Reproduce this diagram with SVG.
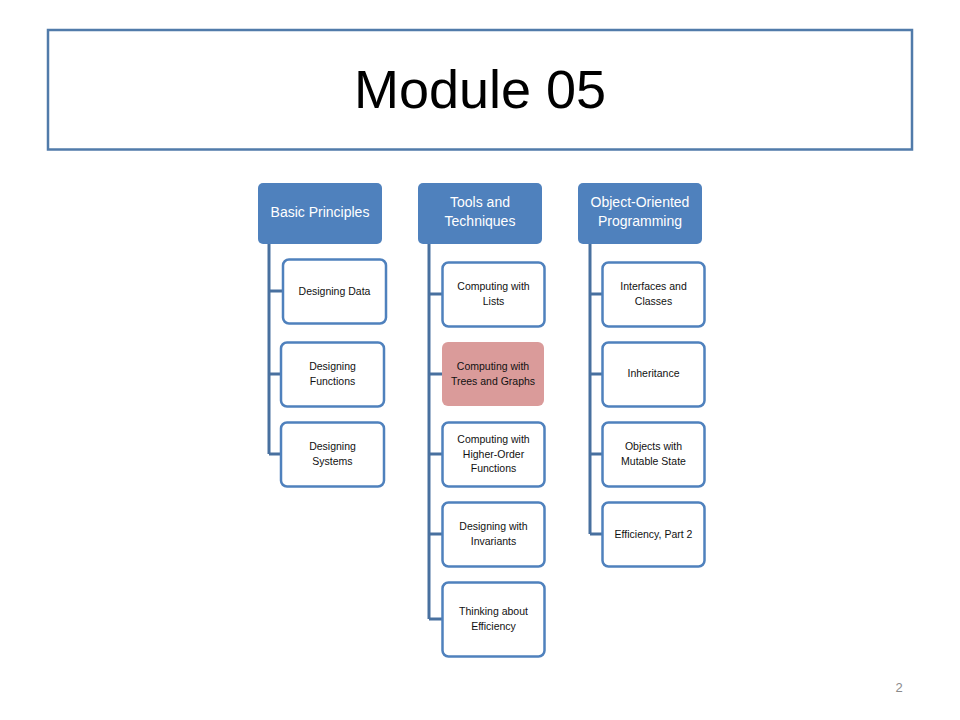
<svg xmlns="http://www.w3.org/2000/svg" width="960" height="720" viewBox="0 0 960 720">
<style>
text{font-family:"Liberation Sans",Arial,sans-serif;text-anchor:middle}
.hdr rect{fill:#4F81BD}
.hdr text{fill:#fff;font-size:14px}
.ch rect{fill:#fff;stroke:#4F81BD;stroke-width:2.5}
.ch text{fill:#111;font-size:10.5px}
.hl rect{fill:#DA9B9A;stroke:none}
.con{stroke:#48709F;stroke-width:3;fill:none}
</style>
<rect width="960" height="720" fill="#fff"/>
<g id="title">
<rect x="48" y="30" width="864" height="119.5" fill="#fff" stroke="#517BAA" stroke-width="2.5"/>
<text x="480" y="108" font-size="54" fill="#000">Module 05</text>
</g>
<g id="connectors" class="con">
<path d="M269 244V454M269 291H283M269 374H281M269 454H281"/>
<path d="M429 244V619M429 294H442M429 374H442M429 454H442M429 534H442M429 619H442"/>
<path d="M590 244V534M590 294H602M590 374H602M590 454H602M590 534H602"/>
</g>
<g id="basic-principles" class="hdr"><rect x="258" y="183" width="124" height="61" rx="5"/><text x="320" y="217">Basic Principles</text></g>
<g id="tools-and-techniques" class="hdr"><rect x="418" y="183" width="124" height="61" rx="5"/><text x="480" y="207">Tools and</text><text x="480" y="226">Techniques</text></g>
<g id="object-oriented-programming" class="hdr"><rect x="578" y="183" width="124" height="61" rx="5"/><text x="640" y="207">Object-Oriented</text><text x="640" y="226">Programming</text></g>

<g id="designing-data" class="ch"><rect x="283" y="259.5" width="103" height="64" rx="6"/><text x="334.5" y="295">Designing Data</text></g>
<g id="designing-functions" class="ch"><rect x="281" y="342.5" width="103" height="64" rx="6"/><text x="332.5" y="370">Designing</text><text x="332.5" y="385">Functions</text></g>
<g id="designing-systems" class="ch"><rect x="281" y="422.5" width="103" height="64" rx="6"/><text x="332.5" y="450">Designing</text><text x="332.5" y="465">Systems</text></g>

<g id="computing-lists" class="ch"><rect x="442.5" y="262.5" width="102" height="64" rx="6"/><text x="493.5" y="290">Computing with</text><text x="493.5" y="305">Lists</text></g>
<g id="computing-trees-graphs" class="ch hl"><rect x="442" y="342" width="102" height="64" rx="6"/><text x="493" y="370">Computing with</text><text x="493" y="385">Trees and Graphs</text></g>
<g id="computing-hof" class="ch"><rect x="442.5" y="422.5" width="102" height="64" rx="6"/><text x="493.5" y="443">Computing with</text><text x="493.5" y="458">Higher-Order</text><text x="493.5" y="472">Functions</text></g>
<g id="designing-invariants" class="ch"><rect x="442.5" y="502.5" width="102" height="64" rx="6"/><text x="493.5" y="530">Designing with</text><text x="493.5" y="545">Invariants</text></g>
<g id="thinking-efficiency" class="ch"><rect x="442.5" y="582.5" width="102" height="74" rx="6"/><text x="493.5" y="615">Thinking about</text><text x="493.5" y="630">Efficiency</text></g>

<g id="interfaces-classes" class="ch"><rect x="602.5" y="262.5" width="102" height="64" rx="6"/><text x="653.5" y="290">Interfaces and</text><text x="653.5" y="305">Classes</text></g>
<g id="inheritance" class="ch"><rect x="602.5" y="342.5" width="102" height="64" rx="6"/><text x="653.5" y="377">Inheritance</text></g>
<g id="objects-mutable-state" class="ch"><rect x="602.5" y="422.5" width="102" height="64" rx="6"/><text x="653.5" y="450">Objects with</text><text x="653.5" y="465">Mutable State</text></g>
<g id="efficiency-part2" class="ch"><rect x="602.5" y="502.5" width="102" height="64" rx="6"/><text x="653.5" y="538">Efficiency, Part 2</text></g>

<text x="899" y="692" font-size="13" fill="#8A8A8A">2</text>
</svg>
